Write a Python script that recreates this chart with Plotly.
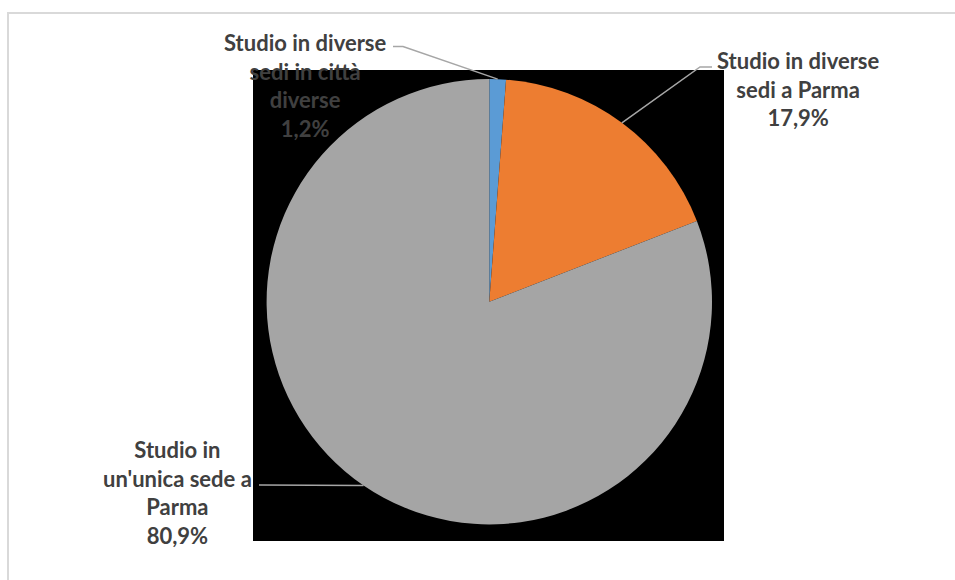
import math
import plotly.graph_objects as go

# ---- data ----
categories = ["Studio in diverse sedi in città diverse",
              "Studio in diverse sedi a Parma",
              "Studio in un'unica sede a Parma"]
label_texts = ["Studio in diverse<br>sedi in città<br>diverse<br>1,2%",
               "Studio in diverse<br>sedi a Parma<br>17,9%",
               "Studio in<br>un'unica sede a<br>Parma<br>80,9%"]
shares = [1.2, 17.9, 80.9]
colors = ["#5B9BD5", "#ED7D31", "#A5A5A5"]

# ---- layout geometry (pixels) ----
W, H = 955, 580
CX, CY, R = 489.3, 301.7, 222.7


def px(x):
    return x / W


def py(y):
    return 1 - y / H


fig = go.Figure(go.Pie(
    labels=categories, values=shares, sort=False, direction="clockwise",
    rotation=0, textinfo="none", hoverinfo="label+percent",
    marker=dict(colors=colors, line=dict(width=0)),
    domain=dict(x=[px(CX - R), px(CX + R)], y=[py(CY + R), py(CY - R)]),
))

shapes = [
    # outer chart border
    dict(type="rect", xref="paper", yref="paper", x0=px(8), x1=px(1000),
         y0=py(640), y1=py(13), line=dict(color="#D9D9D9", width=2),
         fillcolor="white", layer="below"),
    # black plot area
    dict(type="rect", xref="paper", yref="paper", x0=px(253), x1=px(724),
         y0=py(541), y1=py(70), line=dict(width=0), fillcolor="black",
         layer="below"),
]

# label placement: (text center x, center y, elbow x, elbow y, end x)
label_pos = [
    (305, 85, 403, 46.5, 393),
    (798, 89, 700, 67, 712),
    (177, 492, None, 485, 259),
]

total = sum(shares)
cum = 0.0
annotations = []
for val, txt, (lx, ly, ex, ey, endx) in zip(shares, label_texts, label_pos):
    mid = (cum + val / 2) / total * 2 * math.pi
    cum += val
    sx = CX + R * math.sin(mid)
    sy = CY - R * math.cos(mid)
    if ex is None:
        path = f"M {px(sx)},{py(sy)} L {px(endx)},{py(ey)}"
    else:
        path = (f"M {px(sx)},{py(sy)} L {px(ex)},{py(ey)} "
                f"L {px(endx)},{py(ey)}")
    shapes.append(dict(type="path", xref="paper", yref="paper", path=path,
                       line=dict(color="#A6A6A6", width=1.5)))
    annotations.append(dict(
        x=px(lx), y=py(ly), xref="paper", yref="paper", text=f"<b>{txt}</b>",
        showarrow=False, xanchor="center", yanchor="middle", align="center",
        font=dict(family="Lato", size=22, color="#404040")))

fig.update_layout(
    width=W, height=H, margin=dict(l=0, r=0, t=0, b=0),
    paper_bgcolor="white", plot_bgcolor="white", showlegend=False,
    shapes=shapes, annotations=annotations,
)

fig.write_html(
    "out.html",
    config={"displayModeBar": False},
    post_script="document.body.style.margin='0';"
                "document.body.style.overflow='hidden';",
)
